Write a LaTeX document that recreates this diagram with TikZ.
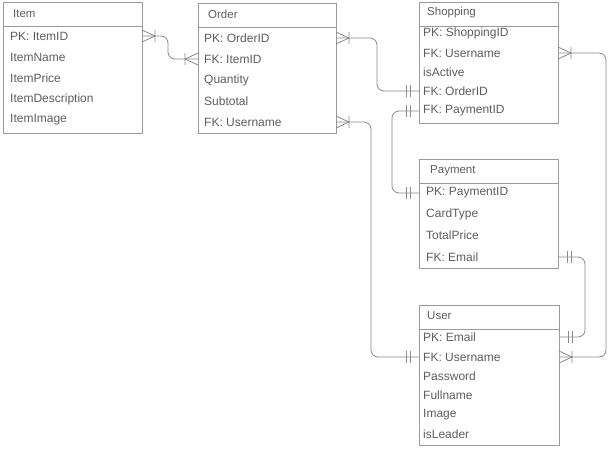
\documentclass[tikz,border=0pt]{standalone}
\usepackage{fontspec}
\setmainfont{Liberation Sans}
\definecolor{boxc}{HTML}{9A9A9A}
\definecolor{linec}{HTML}{8A8A8A}
\definecolor{txtc}{HTML}{5E5E5E}
\begin{document}
\begin{tikzpicture}[x=1pt,y=-1pt,
  box/.style={draw=boxc, line width=0.8pt, inner sep=0pt, outer sep=0pt, anchor=north west},
  hdr/.style={anchor=west, text=txtc, font=\fontsize{11.5}{12}\selectfont, inner sep=0pt},
  row/.style={anchor=west, text=txtc, font=\fontsize{12}{13}\selectfont, inner sep=0pt},
  sep/.style={draw=boxc, line width=0.8pt},
  conn/.style={draw=linec, line width=0.8pt, rounded corners=7pt},
  pics/crow/.style={code={\draw[linec, line width=0.8pt] (0,-6)--(13,0)--(0,6) (13,-6)--(13,6);}},
  pics/one/.style={code={\draw[linec, line width=0.8pt] (9,-6)--(9,6) (13,-6)--(13,6);}}]
\useasboundingbox (0,0) rectangle (611,448);
\fill[white] (0,0) rectangle (611,448);

% Item
\node[box, minimum width=139pt, minimum height=131pt] (item) at (3,2) {};
\draw[sep] ([yshift=-24pt]item.north west) -- ([yshift=-24pt]item.north east);
\node[hdr] (itemH) at (13,14) {Item};
\node[row] (itemPK) at (10,36) {PK: ItemID};
\node[row] (itemN) at (10,57) {ItemName};
\node[row] (itemP) at (10,78) {ItemPrice};
\node[row] (itemD) at (10,99) {ItemDescription};
\node[row] (itemI) at (10,120) {ItemImage};

% Order
\node[box, minimum width=138pt, minimum height=130pt] (order) at (198,3) {};
\draw[sep] ([yshift=-24pt]order.north west) -- ([yshift=-24pt]order.north east);
\node[hdr] (orderH) at (208,14) {Order};
\node[row] (orderPK) at (204,38) {PK: OrderID};
\node[row] (orderFKI) at (204,59) {FK: ItemID};
\node[row] (orderQ) at (204,80) {Quantity};
\node[row] (orderS) at (204,101) {Subtotal};
\node[row] (orderFKU) at (204,122) {FK: Username};

% Shopping
\node[box, minimum width=139pt, minimum height=121pt] (shop) at (419,2) {};
\draw[sep] ([yshift=-24pt]shop.north west) -- ([yshift=-24pt]shop.north east);
\node[hdr] (shopH) at (427,13) {Shopping};
\node[row] (shopPK) at (423,33) {PK: ShoppingID};
\node[row] (shopFKU) at (423,53) {FK: Username};
\node[row] (shopA) at (423,72) {isActive};
\node[row] (shopFKO) at (423,91) {FK: OrderID};
\node[row] (shopFKP) at (423,111) {FK: PaymentID};

% Payment
\node[box, minimum width=139pt, minimum height=109pt] (pay) at (419,159) {};
\draw[sep] ([yshift=-24pt]pay.north west) -- ([yshift=-24pt]pay.north east);
\node[hdr] (payH) at (430,171) {Payment};
\node[row] (payPK) at (426,193) {PK: PaymentID};
\node[row] (payC) at (426,214) {CardType};
\node[row] (payT) at (426,235) {TotalPrice};
\node[row] (payFKE) at (426,257) {FK: Email};

% User
\node[box, minimum width=140pt, minimum height=140pt] (user) at (419,305) {};
\draw[sep] ([yshift=-24pt]user.north west) -- ([yshift=-24pt]user.north east);
\node[hdr] (userH) at (427,316) {User};
\node[row] (userPK) at (423,337) {PK: Email};
\node[row] (userFKU) at (423,357) {FK: Username};
\node[row] (userPw) at (423,376) {Password};
\node[row] (userF) at (423,395) {Fullname};
\node[row] (userI) at (423,415) {Image};
\node[row] (userL) at (423,434) {isLeader};

% connectors
\draw[conn] (item.east |- itemPK) -- ++(26,0) |- (order.west |- orderFKI);
\pic at (item.east |- itemPK) {crow};
\pic[xscale=-1] at (order.west |- orderFKI) {crow};

\draw[conn] (order.east |- orderPK) -- ++(41,0) |- (shop.west |- shopFKO);
\pic at (order.east |- orderPK) {crow};
\pic[xscale=-1] at (shop.west |- shopFKO) {one};

\draw[conn] (order.east |- orderFKU) -- ++(35,0) |- (user.west |- userFKU);
\pic at (order.east |- orderFKU) {crow};
\pic[xscale=-1] at (user.west |- userFKU) {one};

\draw[conn] (shop.west |- shopFKP) -- ++(-27,0) |- (pay.west |- payPK);
\pic[xscale=-1] at (shop.west |- shopFKP) {one};
\pic[xscale=-1] at (pay.west |- payPK) {one};

\draw[conn] (shop.east |- shopFKU) -- ++(48,0) |- (user.east |- userFKU);
\pic at (shop.east |- shopFKU) {crow};
\pic at (user.east |- userFKU) {crow};

\draw[conn] (pay.east |- payFKE) -- ++(27,0) |- (user.east |- userPK);
\pic at (pay.east |- payFKE) {one};
\pic at (user.east |- userPK) {one};
\end{tikzpicture}
\end{document}
